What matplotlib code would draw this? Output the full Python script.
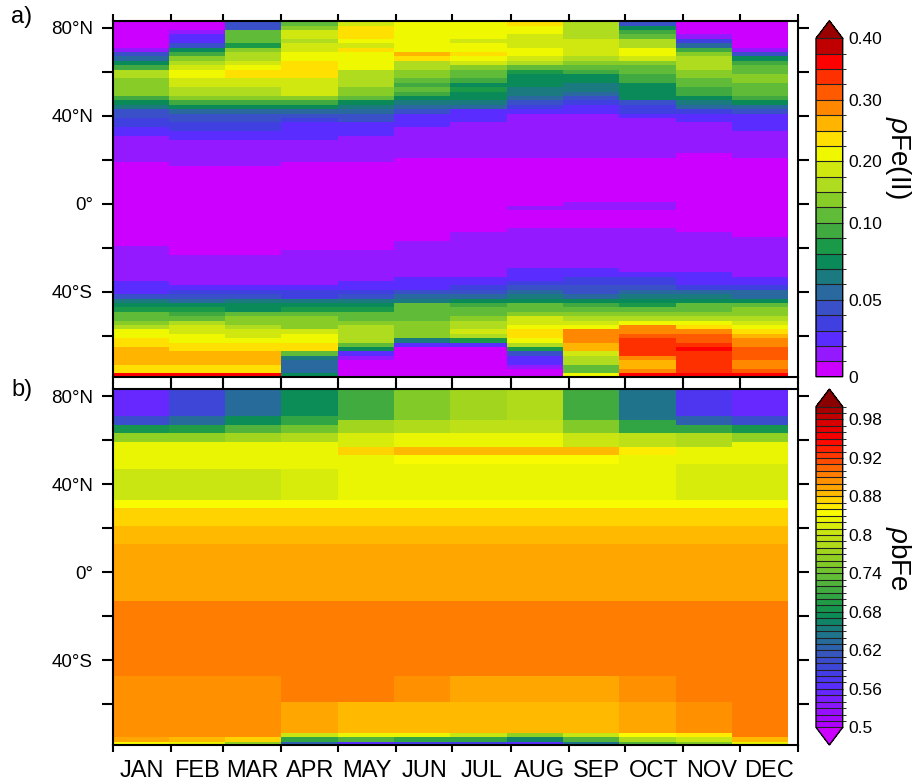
import numpy as np
import matplotlib
matplotlib.use("Agg")
import matplotlib.pyplot as plt
from matplotlib.colors import ListedColormap, BoundaryNorm, LinearSegmentedColormap

plt.rcParams["font.family"] = ["Liberation Sans", "DejaVu Sans"]
plt.rcParams["mathtext.fontset"] = "custom"
plt.rcParams["mathtext.rm"] = "Liberation Sans"
plt.rcParams["mathtext.it"] = "Liberation Sans:italic"

# Month labels and calendar (x axis in days of year)
months = ["JAN", "FEB", "MAR", "APR", "MAY", "JUN", "JUL", "AUG", "SEP", "OCT", "NOV", "DEC"]
month_days = [31, 28, 31, 30, 31, 30, 31, 31, 30, 31, 30, 31]

# Model output: 12 monthly fields of 30 days each
day_edges = np.arange(0, 361, 30)
lat_edges = np.arange(-79, 84, 2)
lat_centers = np.arange(-78, 83, 2)

# a) pFe(II): bands per month as (top latitude, value), south to north
fe2_jan = [(-77, .36), (-73, .24), (-65, .26), (-61, .24), (-57, .21), (-55, .16), (-53, .14),
           (-49, .11), (-47, .085), (-45, .075), (-43, .065), (-41, .045), (-35, .025), (-19, .015),
           (19, .005), (31, .015), (35, .025), (39, .035), (43, .045), (45, .065), (47, .075),
           (49, .095), (57, .14), (61, .16), (63, .095), (65, .075), (67, .055), (69, .045),
           (71, .015), (83, .005)]
fe2_feb = [(-77, .36), (-73, .24), (-67, .26), (-63, .24), (-59, .21), (-55, .19), (-53, .16),
           (-51, .11), (-49, .095), (-47, .085), (-45, .075), (-43, .055), (-41, .045), (-39, .035),
           (-37, .025), (-23, .015), (17, .005), (29, .015), (33, .025), (37, .035), (41, .045),
           (43, .055), (45, .075), (47, .095), (49, .14), (53, .16), (57, .19), (61, .21), (63, .19),
           (65, .16), (67, .14), (69, .095), (71, .075), (73, .045), (77, .025), (79, .015), (83, .005)]
fe2_mar = [(-77, .36), (-73, .24), (-67, .26), (-63, .24), (-61, .21), (-57, .19), (-55, .16),
           (-51, .14), (-49, .11), (-45, .075), (-43, .065), (-41, .045), (-39, .035), (-37, .025),
           (-23, .015), (17, .005), (29, .015), (33, .025), (37, .035), (41, .045), (43, .055),
           (45, .075), (47, .095), (49, .14), (53, .16), (57, .19), (61, .24), (63, .21), (65, .19),
           (69, .16), (71, .14), (73, .085), (79, .11), (83, .045)]
fe2_apr = [(-77, .075), (-71, .055), (-69, .065), (-67, .11), (-63, .24), (-59, .21), (-57, .19),
           (-51, .14), (-49, .11), (-47, .085), (-45, .075), (-43, .065), (-39, .035), (-37, .025),
           (-21, .015), (19, .005), (29, .015), (37, .025), (39, .035), (41, .045), (43, .055),
           (45, .075), (47, .095), (49, .14), (57, .19), (65, .24), (69, .21), (73, .19), (75, .16),
           (79, .19), (81, .14), (83, .11)]
fe2_may = [(-71, .005), (-69, .015), (-67, .025), (-65, .075), (-63, .11), (-55, .16), (-53, .14),
           (-49, .11), (-47, .085), (-45, .075), (-43, .065), (-41, .045), (-39, .035), (-35, .025),
           (-21, .015), (19, .005), (31, .015), (37, .025), (41, .045), (43, .055), (45, .065),
           (47, .075), (49, .11), (53, .14), (61, .16), (69, .21), (71, .24), (73, .19), (75, .21),
           (81, .24), (83, .19)]
fe2_jun = [(-65, .005), (-63, .025), (-61, .065), (-53, .14), (-45, .11), (-43, .065), (-41, .055),
           (-39, .045), (-33, .025), (-17, .015), (21, .005), (35, .015), (41, .025), (43, .045),
           (45, .055), (47, .065), (49, .075), (51, .095), (53, .11), (55, .095), (57, .11),
           (61, .14), (65, .16), (67, .24), (69, .26), (83, .21)]
fe2_jul = [(-65, .005), (-63, .025), (-61, .085), (-59, .16), (-57, .19), (-53, .16), (-51, .14),
           (-47, .11), (-45, .095), (-43, .075), (-41, .055), (-39, .045), (-37, .035), (-33, .025),
           (-13, .015), (21, .005), (37, .015), (43, .025), (45, .055), (47, .065), (51, .075),
           (53, .085), (55, .075), (57, .095), (61, .11), (63, .14), (65, .19), (67, .21),
           (69, .24), (73, .21), (75, .19), (83, .21)]
fe2_aug = [(-75, .005), (-73, .015), (-69, .025), (-67, .045), (-65, .085), (-63, .16), (-61, .21),
           (-57, .24), (-55, .21), (-51, .19), (-49, .14), (-45, .11), (-43, .075), (-41, .065),
           (-39, .055), (-37, .045), (-35, .035), (-29, .025), (-11, .015), (-3, .005), (-1, .015),
           (21, .005), (41, .015), (43, .025), (45, .035), (47, .045), (49, .055), (53, .065),
           (59, .075), (61, .085), (63, .11), (65, .16), (67, .19), (71, .21), (77, .19),
           (81, .21), (83, .24)]
fe2_sep = [(-77, .21), (-73, .11), (-69, .16), (-67, .19), (-63, .26), (-57, .29), (-55, .21),
           (-53, .19), (-51, .16), (-49, .14), (-47, .11), (-45, .095), (-43, .075), (-41, .055),
           (-37, .045), (-33, .035), (-29, .025), (-11, .015), (-3, .005), (1, .015), (21, .005),
           (41, .015), (45, .025), (47, .035), (49, .045), (51, .055), (55, .065), (59, .075),
           (61, .095), (63, .11), (65, .14), (67, .16), (75, .19), (83, .16)]
fe2_oct = [(-77, .36), (-75, .29), (-71, .26), (-69, .29), (-61, .34), (-59, .31), (-55, .29),
           (-53, .21), (-51, .16), (-49, .14), (-47, .11), (-45, .085), (-43, .075), (-41, .065),
           (-39, .055), (-37, .045), (-33, .035), (-31, .025), (-11, .015), (-3, .005), (1, .015),
           (21, .005), (39, .015), (41, .025), (45, .035), (47, .045), (55, .075), (59, .095),
           (63, .11), (65, .14), (67, .19), (71, .21), (75, .16), (77, .11), (79, .095),
           (81, .075), (83, .045)]
fe2_nov = [(-77, .36), (-67, .34), (-65, .36), (-63, .34), (-59, .31), (-57, .29), (-55, .24),
           (-53, .21), (-51, .16), (-49, .14), (-45, .11), (-43, .075), (-41, .065), (-39, .055),
           (-37, .035), (-31, .025), (-13, .015), (23, .005), (37, .015), (41, .025), (43, .035),
           (45, .055), (47, .065), (49, .075), (53, .095), (57, .11), (61, .14), (67, .16),
           (69, .14), (71, .095), (73, .055), (75, .035), (77, .015), (83, .005)]
fe2_dec = [(-77, .36), (-75, .31), (-71, .29), (-65, .31), (-61, .29), (-59, .26), (-57, .24),
           (-55, .21), (-53, .19), (-51, .16), (-47, .14), (-45, .11), (-43, .075), (-39, .055),
           (-37, .035), (-33, .025), (-15, .015), (21, .005), (33, .015), (41, .025), (43, .045),
           (45, .055), (47, .075), (49, .095), (55, .11), (59, .14), (63, .11), (65, .095),
           (67, .075), (69, .045), (71, .015), (83, .005)]

# b) pbFe: bands per month as (top latitude, value), south to north
bfe_jan = [(-77, .83), (-75, .87), (-59, .88), (-47, .88), (-13, .89), (13, .87), (21, .86),
           (29, .85), (33, .83), (47, .80), (59, .82), (63, .76), (67, .68), (71, .60), (83, .55)]
bfe_feb = [(-77, .82), (-75, .86), (-59, .88), (-47, .88), (-13, .89), (13, .87), (21, .86),
           (29, .85), (33, .83), (47, .80), (59, .82), (63, .76), (67, .69), (71, .63), (83, .59)]
bfe_mar = [(-77, .76), (-75, .85), (-59, .88), (-47, .88), (-13, .89), (13, .87), (21, .86),
           (29, .85), (33, .83), (47, .80), (59, .82), (63, .77), (67, .72), (71, .67), (83, .63)]
bfe_apr = [(-77, .62), (-75, .70), (-73, .80), (-59, .87), (-47, .89), (-13, .89), (13, .87),
           (21, .86), (29, .85), (33, .83), (47, .81), (59, .82), (63, .78), (67, .74), (71, .70),
           (83, .67)]
bfe_may = [(-77, .56), (-75, .72), (-73, .82), (-59, .86), (-47, .89), (-13, .89), (13, .87),
           (21, .86), (29, .85), (33, .83), (49, .82), (53, .82), (57, .85), (63, .81), (69, .77),
           (83, .71)]
bfe_jun = [(-77, .58), (-75, .70), (-73, .82), (-59, .86), (-47, .88), (-13, .89), (13, .87),
           (21, .86), (29, .85), (33, .83), (49, .82), (53, .83), (57, .86), (63, .82), (69, .78),
           (83, .75)]
bfe_jul = [(-77, .58), (-75, .70), (-73, .80), (-59, .86), (-47, .87), (-13, .89), (13, .87),
           (21, .86), (29, .85), (33, .83), (49, .82), (53, .83), (57, .86), (63, .82), (69, .79),
           (83, .77)]
bfe_aug = [(-77, .56), (-75, .66), (-73, .76), (-59, .86), (-47, .87), (-13, .89), (13, .87),
           (21, .86), (29, .85), (33, .83), (49, .82), (53, .83), (57, .86), (63, .82), (69, .79),
           (83, .78)]
bfe_sep = [(-77, .64), (-75, .72), (-73, .80), (-59, .86), (-47, .87), (-13, .89), (13, .87),
           (21, .86), (29, .85), (33, .83), (49, .82), (53, .83), (57, .86), (63, .80), (69, .75),
           (83, .71)]
bfe_oct = [(-77, .72), (-75, .78), (-73, .83), (-59, .87), (-47, .88), (-13, .89), (13, .87),
           (21, .86), (29, .85), (33, .83), (49, .82), (53, .82), (57, .84), (63, .79), (69, .70),
           (83, .64)]
bfe_nov = [(-77, .75), (-75, .80), (-73, .84), (-59, .88), (-47, .89), (-13, .89), (13, .87),
           (21, .86), (29, .85), (33, .83), (49, .81), (57, .82), (63, .78), (67, .70), (71, .62),
           (83, .57)]
bfe_dec = [(-77, .82), (-75, .86), (-59, .89), (-47, .89), (-13, .89), (13, .87), (21, .86),
           (29, .85), (33, .83), (49, .81), (59, .82), (63, .76), (67, .68), (71, .60), (83, .55)]

fe2_months = [fe2_jan, fe2_feb, fe2_mar, fe2_apr, fe2_may, fe2_jun,
              fe2_jul, fe2_aug, fe2_sep, fe2_oct, fe2_nov, fe2_dec]
bfe_months = [bfe_jan, bfe_feb, bfe_mar, bfe_apr, bfe_may, bfe_jun,
              bfe_jul, bfe_aug, bfe_sep, bfe_oct, bfe_nov, bfe_dec]


def to_column(bands):
    col = []
    for lat in lat_centers:
        for top, val in bands:
            if lat < top:
                col.append(val)
                break
    return col


fe2_grid = np.array([to_column(b) for b in fe2_months]).T
bfe_grid = np.array([to_column(b) for b in bfe_months]).T

# Colour levels
levels_a = [0, .01, .02, .03, .04, .05, .06, .07, .08, .09, .10,
            .125, .15, .175, .20, .225, .25, .275, .30, .325, .35, .375, .40]
colors_a = ["#cc00ff", "#9419ff", "#5a2cff", "#4040e0", "#3a50c8", "#2a68a0", "#1a7a80",
            "#0a8a58", "#1a9a48", "#40aa40", "#60bc38", "#88cc28", "#b0dc20", "#d0e810",
            "#f0f800", "#ffe000", "#ffb400", "#ff8800", "#ff5a00", "#ff3000", "#ff0000", "#c00000"]
cmap_a = ListedColormap(colors_a)
cmap_a.set_over("#990000")
norm_a = BoundaryNorm(levels_a, cmap_a.N)

levels_b = np.round(np.arange(0.50, 1.0001, 0.01), 2)
anchor_pos = [0, 3, 5.7, 8.3, 10.4, 12.5, 14.8, 16.6, 18.7, 20.8, 22.9, 25.2, 27.5, 30.4,
              32.5, 33.4, 34.4, 36.4, 38.5, 40.3, 42.4, 44.4, 47.6, 49]
anchor_col = ["#b000ff", "#8a18ff", "#5a2cff", "#4040e0", "#3a50c8", "#2a68a0", "#1a7a80",
              "#0a8a58", "#1a9a48", "#40aa40", "#60bc38", "#84cc26", "#a8d81c", "#d0e810",
              "#f0f800", "#ffff00", "#ffe000", "#ffb400", "#ff8800", "#ff6000", "#ff3000",
              "#ff0000", "#d00000", "#a80000"]
smooth_b = LinearSegmentedColormap.from_list(
    "pbfe", list(zip([p / 49 for p in anchor_pos], anchor_col)))
cmap_b = ListedColormap([smooth_b(k / 49) for k in range(50)])
cmap_b.set_over("#8b0000")
cmap_b.set_under("#cc00ff")
norm_b = BoundaryNorm(levels_b, cmap_b.N)

# Figure layout
W, H = 914, 784
fig = plt.figure(figsize=(W / 100, H / 100), dpi=100)
ax_a = fig.add_axes([112.5 / W, 1 - 376.7 / H, 685.3 / W, 356 / H])
ax_b = fig.add_axes([112.5 / W, 1 - 745 / H, 685.3 / W, 356 / H])
cax_a = fig.add_axes([816 / W, 1 - 376.7 / H, 26.7 / W, 356 / H])
cax_b = fig.add_axes([816 / W, 1 - 745 / H, 26.7 / W, 356 / H])

mesh_a = ax_a.pcolormesh(day_edges, lat_edges, fe2_grid, cmap=cmap_a, norm=norm_a)
mesh_b = ax_b.pcolormesh(day_edges, lat_edges, bfe_grid, cmap=cmap_b, norm=norm_b)

bounds = np.concatenate([[0], np.cumsum(month_days)])
centers = bounds[:-1] + np.array(month_days) / 2
yticks = [80, 60, 40, 20, 0, -20, -40, -60]
ylabels = ["80°N", "", "40°N", "", "0°", "", "40°S", ""]

for ax in (ax_a, ax_b):
    ax.set_xlim(0, 365)
    ax.set_ylim(-78.5, 83.2)
    ax.set_xticks(bounds)
    ax.set_xticklabels([])
    ax.set_xticks(centers, minor=True)
    ax.set_yticks(yticks)
    ax.set_yticklabels(ylabels, fontsize=13.5)
    ax.tick_params(axis="y", which="major", direction="out", length=8, width=1.5,
                   left=True, right=True, pad=6)
    ax.tick_params(axis="x", which="major", direction="out", length=5, width=1.5,
                   top=True, bottom=True)
    ax.tick_params(axis="x", which="minor", length=0, top=False, bottom=True)
    for s in ax.spines.values():
        s.set_linewidth(1.5)

ax_a.set_xticklabels([], minor=True)
ax_b.set_xticklabels(months, minor=True, fontsize=17)
ax_b.tick_params(axis="x", which="minor", pad=11)

fig.text(22 / W, 1 - 17 / H, "a)", fontsize=17, ha="center", va="center")
fig.text(22 / W, 1 - 390 / H, "b)", fontsize=17, ha="center", va="center")

cb_a = fig.colorbar(mesh_a, cax=cax_a, extend="max", spacing="uniform", drawedges=True,
                    extendfrac=0.052, ticks=[0, 0.05, 0.10, 0.20, 0.30, 0.40])
cb_a.ax.set_yticklabels(["0", "0.05", "0.10", "0.20", "0.30", "0.40"])
cb_b = fig.colorbar(mesh_b, cax=cax_b, extend="both", spacing="uniform", drawedges=True,
                    extendfrac=0.055,
                    ticks=[0.5, 0.56, 0.62, 0.68, 0.74, 0.8, 0.86, 0.92, 0.98])
cb_b.ax.set_yticklabels(["0.5", "0.56", "0.62", "0.68", "0.74", "0.8", "0.88", "0.92", "0.98"])
for cb in (cb_a, cb_b):
    cb.ax.tick_params(length=0, labelsize=12.5, pad=4)
    cb.outline.set_linewidth(1)
    cb.dividers.set_linewidth(0.8)
    cb.dividers.set_color("#222222")

fig.text(898 / W, 1 - 157 / H, r"$\mathit{\rho}$Fe(II)", rotation=270, fontsize=20,
         ha="center", va="center")
fig.text(898 / W, 1 - 559 / H, r"$\mathit{\rho}$bFe", rotation=270, fontsize=20,
         ha="center", va="center")

fig.savefig("out.png", dpi=100)
